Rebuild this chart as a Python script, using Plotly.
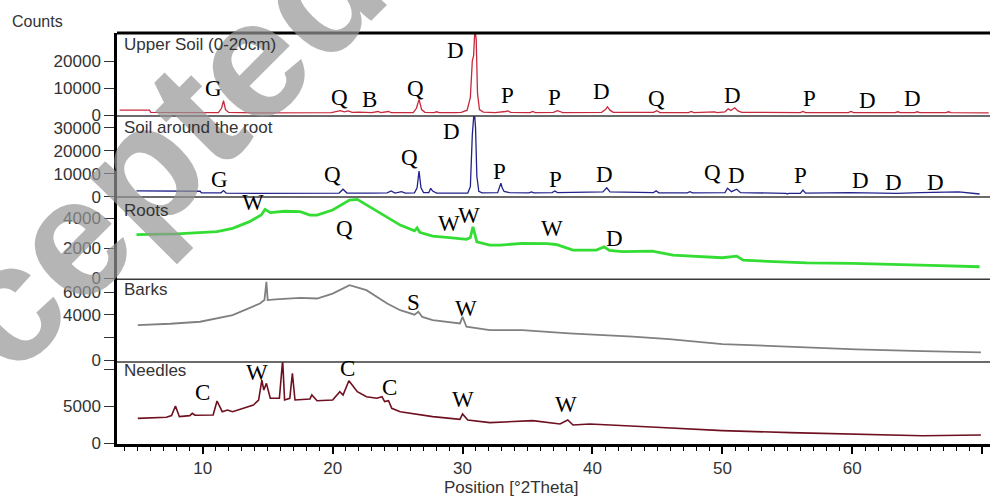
import plotly.graph_objects as go
from plotly.subplots import make_subplots

# ---------------- data (2theta, counts) ----------------
upper_x = [3.6, 5.9, 6.0, 9.0, 11.2, 11.45, 11.6, 11.75, 12.0, 14.0, 16.0, 17.4, 17.6, 19.9, 20.6, 20.9, 21.2,
           21.5, 22.0, 23.0, 23.5, 23.7, 24.3, 24.5, 26.2, 26.45, 26.65, 26.85, 27.1, 27.8, 28.0, 28.2, 29.4,
           29.9, 30.35, 30.6, 30.75, 30.85, 30.95, 31.05, 31.15, 31.3, 31.6, 32.5, 33.3, 33.5, 33.7, 35.2, 35.4,
           35.6, 37.0, 37.3, 37.5, 37.7, 40.7, 41.0, 41.15, 41.35, 41.6, 44.7, 44.95, 45.2, 47.4, 47.6, 47.8,
           49.2, 49.4, 49.6, 50.2, 50.45, 50.65, 50.95, 51.2, 51.5, 56.0, 56.2, 56.4, 59.7, 59.9, 60.1, 63.3,
           63.5, 63.7, 64.8, 65.0, 65.2, 67.2, 67.4, 67.6, 70.5]
upper_y = [1800, 1800, 1000, 900, 900, 2500, 5300, 2000, 950, 800, 800, 1000, 800, 900, 1600, 1200, 1500,
           1000, 1100, 900, 1300, 900, 1300, 900, 900, 2500, 5800, 2000, 1000, 900, 1200, 900, 900,
           1000, 1800, 6500, 20000, 22000, 32000, 28000, 8000, 2000, 1100, 900, 1300, 1500, 1000, 900, 1300,
           900, 1000, 1600, 1300, 900, 1000, 2000, 3000, 1800, 1000, 1000, 1600, 900, 900, 1300, 900,
           1000, 1200, 900, 1200, 2300, 1700, 2700, 1500, 1000, 900, 1300, 900, 900, 1300, 900, 900,
           1200, 900, 900, 1200, 900, 900, 1200, 900, 800]

root_soil_x = [4.9, 6.5, 9.8, 9.9, 11.4, 11.6, 11.8, 14.0, 17.0, 20.5, 20.8, 21.1, 23.0, 24.2, 24.5, 24.8,
               25.3, 25.6, 26.3, 26.5, 26.65, 26.8, 27.0, 27.4, 27.55, 27.7, 28.0, 30.4, 30.6, 30.75, 30.9,
               31.0, 31.1, 31.25, 31.5, 32.7, 32.95, 33.05, 33.2, 33.6, 35.1, 35.3, 35.5, 36.9, 37.1, 37.3,
               40.8, 41.1, 41.35, 44.7, 44.9, 45.1, 47.3, 47.5, 47.7, 50.2, 50.4, 50.7, 51.1, 51.4, 54.9,
               55.0, 55.1, 56.0, 56.2, 56.4, 59.8, 61.9, 63.4, 65.2, 68.2, 69.8]
root_soil_y = [2700, 2600, 2500, 1800, 1800, 2800, 1700, 1600, 1600, 1700, 3400, 1700, 1700, 1800, 2600, 1700,
               2300, 1700, 1800, 4000, 11300, 4000, 1900, 1900, 3800, 2600, 1700, 1700, 4500, 27000, 38000,
               30000, 9000, 2500, 1800, 1900, 6000, 4000, 2400, 1900, 1800, 2200, 1800, 1900, 2600, 1900,
               2200, 4000, 2200, 1900, 2700, 1800, 1800, 2300, 1800, 1900, 3800, 2300, 3400, 1900, 1600,
               1300, 1600, 1600, 3000, 1700, 1900, 1700, 1600, 1900, 2200, 1300]

roots_x = [4.9, 8.0, 11.1, 12.3, 13.6, 14.5, 14.8, 15.2, 16.3, 17.5, 18.25, 18.8, 20.0, 21.3, 21.9, 22.6,
           23.9, 25.2, 26.3, 26.5, 26.7, 27.7, 29.0, 30.3, 30.6, 30.8, 31.1, 32.1, 32.9, 34.6, 36.5, 37.2,
           38.5, 40.3, 40.9, 41.3, 42.3, 44.6, 46.2, 48.0, 50.0, 51.1, 51.6, 54.0, 56.5, 60.0, 62.9, 66.0, 69.8]
roots_y = [2900, 2950, 3090, 3310, 3760, 4200, 4580, 4360, 4450, 4420, 4200, 4200, 4530, 5200, 5240, 4870,
           4200, 3530, 3150, 3350, 3050, 2800, 2700, 2580, 2700, 3420, 2420, 2200, 2200, 2310, 2300, 2240,
           1870, 1870, 2090, 1850, 1760, 1800, 1530, 1450, 1360, 1470, 1200, 1100, 1020, 980, 930, 850, 760]

barks_x = [5.0, 7.5, 9.8, 12.3, 14.4, 14.75, 14.9, 15.0, 15.6, 17.5, 18.8, 20.0, 21.3, 22.6, 24.2, 25.2,
           26.3, 26.6, 26.9, 27.7, 29.8, 30.0, 30.3, 32.1, 34.6, 38.2, 43.1, 45.9, 50.0, 55.2, 60.3, 65.4, 69.9]
barks_y = [3080, 3200, 3380, 3960, 4990, 5300, 6900, 5290, 5350, 5490, 5430, 5870, 6610, 6170, 4990, 4400,
           4000, 4260, 3800, 3520, 3230, 3820, 2940, 2640, 2640, 2350, 2060, 1850, 1410, 1175, 940, 790, 675]

needles_x = [5.0, 7.2, 7.6, 7.9, 8.2, 9.0, 9.2, 9.4, 10.8, 11.1, 11.5, 11.9, 12.3, 13.9, 14.3, 14.55, 14.7,
             14.9, 15.2, 15.9, 16.15, 16.3, 16.7, 16.9, 17.1, 18.25, 18.4, 18.8, 20.0, 20.55, 20.8, 21.25,
             21.9, 22.6, 23.4, 23.8, 24.0, 24.3, 24.55, 25.2, 27.7, 29.8, 30.0, 30.4, 32.1, 35.4, 37.5, 38.1,
             38.5, 39.8, 44.9, 50.0, 55.2, 60.3, 65.4, 69.9]
needles_y = [3330, 3470, 3700, 5000, 3560, 3700, 4010, 3750, 3780, 5680, 4230, 4460, 4230, 5140, 5810, 8510,
             7160, 8060, 6040, 6040, 11200, 5810, 6040, 9410, 5810, 5950, 6490, 5720, 5810, 6940, 6490, 8420,
             6940, 6260, 6040, 6260, 5590, 5720, 4690, 4230, 3560, 3200, 3920, 3110, 2750, 3020, 2570, 3110,
             2430, 2570, 2120, 1670, 1400, 1170, 990, 1080]

panel_names = ["Upper Soil (0-20cm)", "Soil around the root", "Roots", "Barks", "Needles"]

# peak labels per panel: letter, 2theta, counts
upper_lbl = ["G", "Q", "B", "Q", "D", "P", "P", "D", "Q", "D", "P", "D", "D"]
upper_lx = [10.86, 20.55, 22.85, 26.4, 29.48, 33.48, 37.09, 40.71, 44.94, 50.78, 56.7, 61.17, 64.63]
upper_ly = [10000, 6667, 5926, 10000, 24074, 7407, 6667, 8889, 6296, 7407, 6296, 5556, 6296]

soil_lbl = ["G", "Q", "Q", "D", "P", "P", "D", "Q", "D", "P", "D", "D", "D"]
soil_lx = [11.26, 20.02, 25.94, 29.17, 32.86, 37.17, 40.94, 49.25, 51.09, 56.0, 60.6, 63.2, 66.4]
soil_ly = [7391, 9565, 16957, 28261, 10870, 7391, 9565, 10435, 9130, 9130, 6957, 6087, 6087]

roots_lbl = ["W", "Q", "W", "W", "W", "D"]
roots_lx = [13.86, 20.95, 28.97, 30.5, 36.86, 41.7]
roots_ly = [5000, 3333, 3667, 4200, 3333, 2667]

barks_lbl = ["W", "S", "W"]
barks_lx = [14.8, 26.25, 30.25]
barks_ly = [7753, 5110, 4581]

needles_lbl = ["C", "W", "W", "C", "C", "W", "W"]
needles_lx = [10.0, 14.15, 16.17, 21.17, 24.4, 30.0, 38.0]
needles_ly = [6892, 9595, 12838, 10135, 7568, 5946, 5270]

x_ticks = [10, 20, 30, 40, 50, 60, 70]

# ---------------- figure ----------------
series = [
    (upper_x, upper_y, "#c8283c", 1.3),
    (root_soil_x, root_soil_y, "#22228c", 1.3),
    (roots_x, roots_y, "#33dd33", 2.8),
    (barks_x, barks_y, "#808080", 1.8),
    (needles_x, needles_y, "#6e1020", 1.6),
]
labels = [
    (upper_lbl, upper_lx, upper_ly),
    (soil_lbl, soil_lx, soil_ly),
    (roots_lbl, roots_lx, roots_ly),
    (barks_lbl, barks_lx, barks_ly),
    (needles_lbl, needles_lx, needles_ly),
]

fig = make_subplots(rows=5, cols=1, shared_xaxes=True, vertical_spacing=0)
for i, (xs, ys, col, w) in enumerate(series):
    fig.add_trace(go.Scatter(x=xs, y=ys, mode="lines", line=dict(color=col, width=w),
                             hoverinfo="skip", showlegend=False), row=i + 1, col=1)

# panel geometry (fractions of plot height) and y ranges
domains = [[0.798, 1.0], [0.601, 0.798], [0.401, 0.601], [0.1995, 0.401], [0.0, 0.1995]]
yranges = [[-370, 30370], [0, 35200], [-67, 5400], [-176, 7137], [-135, 10946]]
ytickv = [[0, 10000, 20000], [0, 10000, 20000, 30000], [0, 2000, 4000], [0, 2000, 4000, 6000], [0, 5000, 10000]]
ytickt = [["0", "10000", "20000"], ["0", "10000", "20000", "30000"], ["0", "2000", "4000"],
          ["0", "", "4000", "6000"], ["0", "5000", ""]]

font_sans = "Liberation Sans, Arial, sans-serif"
font_serif = "Liberation Serif, Times New Roman, serif"

for i in range(5):
    key = "yaxis" if i == 0 else f"yaxis{i + 1}"
    fig.layout[key].update(domain=domains[i], range=yranges[i], tickvals=ytickv[i], ticktext=ytickt[i],
                           showgrid=False, zeroline=False, showline=True, linecolor="black", linewidth=2.5,
                           ticks="outside", ticklen=10, tickwidth=1, tickcolor="#333", automargin=False,
                           tickfont=dict(family=font_sans, size=17, color="#333"))
    xkey = "xaxis" if i == 0 else f"xaxis{i + 1}"
    fig.layout[xkey].update(range=[3.4, 70.6], showgrid=False, zeroline=False, automargin=False,
                            showticklabels=False, ticks="", showline=False)

fig.layout.xaxis5.update(showticklabels=True, tickvals=x_ticks, ticks="outside", ticklen=7, tickwidth=1.5,
                         tickcolor="black", showline=True, linecolor="black", linewidth=3,
                         tickfont=dict(family=font_sans, size=17, color="#333"),
                         minor=dict(dtick=1, tick0=0, ticks="outside", ticklen=4, tickcolor="black", tickwidth=1))

shapes = [dict(type="line", xref="paper", yref="paper", x0=0, x1=1, y0=1, y1=1,
               line=dict(color="black", width=3))]
for d in domains[:-1]:
    shapes.append(dict(type="line", xref="paper", yref="paper", x0=0, x1=1, y0=d[0], y1=d[0],
                       line=dict(color="#3a3a3a", width=1.6)))

annotations = []
# watermark
annotations.append(dict(text="<b>Accepted Manuscript</b>", xref="paper", yref="paper", x=0.347, y=1.348,
                        showarrow=False, textangle=-45, xanchor="center", yanchor="middle",
                        font=dict(family=font_sans, size=168, color="rgba(150,150,150,0.7)")))
# panel titles
title_y = [0.971, 0.771, 0.569, 0.375, 0.178]
for name, ty in zip(panel_names, title_y):
    annotations.append(dict(text=name, xref="paper", yref="paper", x=0.006, y=ty, xanchor="left",
                            yanchor="middle", showarrow=False,
                            font=dict(family=font_sans, size=17, color="#333")))
# peak letters
for i, (lbl, lx, ly) in enumerate(labels):
    yref = "y" if i == 0 else f"y{i + 1}"
    xref = "x" if i == 0 else f"x{i + 1}"
    for t, a, b in zip(lbl, lx, ly):
        annotations.append(dict(text=t, x=a, y=b, xref=xref, yref=yref, showarrow=False,
                                xanchor="center", yanchor="middle",
                                font=dict(family=font_serif, size=23, color="black")))
annotations.append(dict(text="Counts", xref="paper", yref="paper", x=-0.0916, y=1.027, showarrow=False,
                        xanchor="center", yanchor="middle", font=dict(family=font_sans, size=16, color="#333")))
annotations.append(dict(text="Position [°2Theta]", xref="paper", yref="paper", x=0.451, y=-0.107,
                        showarrow=False, xanchor="center", yanchor="middle",
                        font=dict(family=font_sans, size=17, color="#333")))

fig.update_layout(width=990, height=497, margin=dict(l=117, r=0, t=33, b=53),
                  paper_bgcolor="white", plot_bgcolor="white", shapes=shapes, annotations=annotations)

fig.write_html("out.html", config={"displayModeBar": False},
               post_script="document.body.style.margin='0';document.body.style.overflow='hidden';")
